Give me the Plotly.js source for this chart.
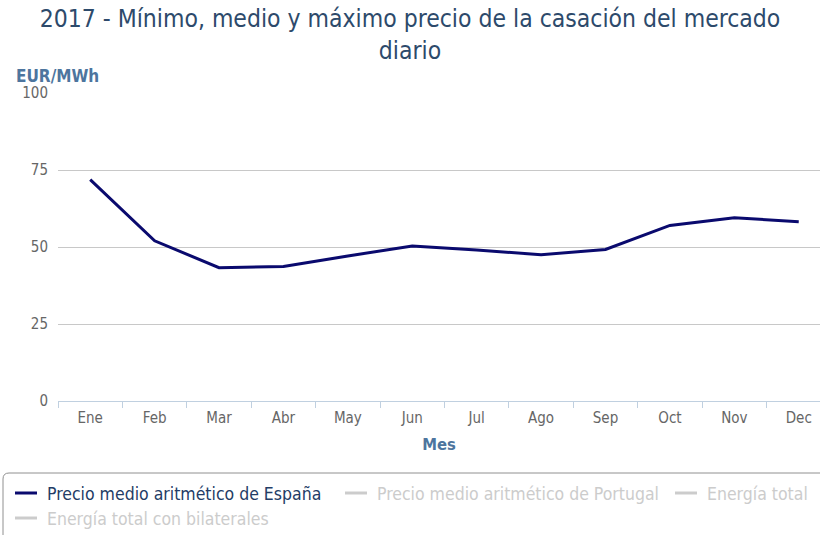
<!DOCTYPE html>
<html>
<head>
<meta charset="utf-8">
<script src="https://cdn.plot.ly/plotly-3.0.1.min.js"></script>
<style>html,body{margin:0;padding:0;background:#fff;}#chart{width:820px;height:535px;}</style>
</head>
<body>
<div id="chart"></div>
<script>
var months = ['Ene','Feb','Mar','Abr','May','Jun','Jul','Ago','Sep','Oct','Nov','Dec'];
var precioEspana = [71.9, 52.0, 43.3, 43.7, 47.1, 50.3, 49.0, 47.5, 49.2, 57.0, 59.5, 58.2];
var seriesNames = ['Precio medio aritmético de España','Precio medio aritmético de Portugal','Energía total','Energía total con bilaterales'];
var seriesColors = ['#0a0a6e', '#cccccc', '#cccccc', '#cccccc'];
var legendTextColors = ['#233c66', '#cccccc', '#cccccc', '#cccccc'];
var yTicks = [0, 25, 50, 75, 100];

var FONT = '"DejaVu Sans Condensed", "DejaVu Sans", sans-serif';

// figure geometry (pixels)
var W = 820, H = 535, L = 58, T = 93, B = 134, R = 0;
var PW = W - L - R, PH = H - T - B;
function px(x) { return (x - L) / PW; }
function py(y) { return (H - B - y) / PH; }

var traces = [{
  x: months, y: precioEspana, type: 'scatter', mode: 'lines',
  name: seriesNames[0], showlegend: false,
  line: {color: seriesColors[0], width: 3}
}];

// manual legend (series 2-4 hidden in the original chart)
var legendPos = [[15, 493], [345, 493], [675, 493], [15, 518]];
var shapes = [];
var annotations = [];
var x0 = px(3), x1 = px(840), y0 = py(473), y1 = py(560);
var rx = 6 / PW, ry = 6 / PH;
shapes.push({
  type: 'path', xref: 'paper', yref: 'paper',
  path: 'M ' + (x0 + rx) + ',' + y0 + ' L ' + x1 + ',' + y0 + ' L ' + x1 + ',' + y1 +
        ' L ' + x0 + ',' + y1 + ' L ' + x0 + ',' + (y0 - ry) +
        ' Q ' + x0 + ',' + y0 + ' ' + (x0 + rx) + ',' + y0 + ' Z',
  line: {color: '#909090', width: 1}, fillcolor: 'rgba(0,0,0,0)'
});
for (var i = 0; i < seriesNames.length; i++) {
  var p = legendPos[i];
  shapes.push({
    type: 'line', xref: 'paper', yref: 'paper',
    x0: px(p[0]), x1: px(p[0] + 22), y0: py(p[1]), y1: py(p[1]),
    line: {color: seriesColors[i], width: 3}
  });
  annotations.push({
    text: seriesNames[i], xref: 'paper', yref: 'paper',
    x: px(p[0] + 30), y: py(p[1] + 1), xanchor: 'left', yanchor: 'middle',
    showarrow: false, font: {family: FONT, size: 17.5, color: legendTextColors[i]}
  });
}
annotations.push({
  text: '<b>EUR/MWh</b>', xref: 'paper', yref: 'paper', x: px(14), y: py(76),
  xanchor: 'left', yanchor: 'middle', showarrow: false,
  font: {family: FONT, size: 17, color: '#4d759e'}
});

var layout = {
  width: W, height: H,
  margin: {l: L, r: R, t: T, b: B},
  paper_bgcolor: '#fff', plot_bgcolor: '#fff',
  font: {family: FONT, color: '#666666', size: 15},
  title: {
    text: '2017 - Mínimo, medio y máximo precio de la casación del mercado<br>diario',
    font: {family: FONT, size: 24.5, color: '#2d4a6b'},
    x: 0.5, xanchor: 'center', xref: 'container',
    yref: 'container', y: (H - 27) / H, yanchor: 'middle'
  },
  showlegend: false,
  xaxis: {
    type: 'category', range: [-0.5, 11.33], fixedrange: true,
    showgrid: false, zeroline: false,
    showline: true, linecolor: '#c0d0e0', linewidth: 1,
    ticks: 'outside', tickson: 'boundaries', ticklen: 6, tickcolor: '#c0d0e0',
    ticklabelstandoff: 3,
    tickfont: {family: FONT, size: 15, color: '#666666'},
    title: {text: '<b>Mes</b>', font: {family: FONT, size: 16.5, color: '#4d759e'}, standoff: 12}
  },
  yaxis: {
    range: [0, 100], tickvals: yTicks, fixedrange: true,
    showgrid: true, gridcolor: '#c8c8c8', gridwidth: 1,
    zeroline: false, showline: false, ticks: '',
    ticklabelstandoff: 9,
    tickfont: {family: FONT, size: 15, color: '#666666'}
  },
  shapes: shapes,
  annotations: annotations
};

Plotly.newPlot('chart', traces, layout, {displayModeBar: false, staticPlot: true});
</script>
</body>
</html>
